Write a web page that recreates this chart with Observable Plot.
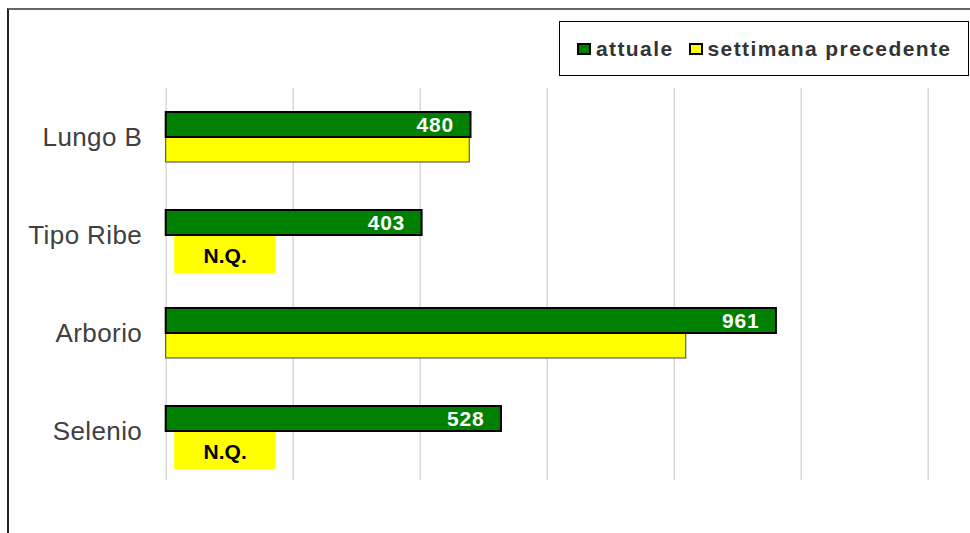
<!DOCTYPE html>
<html>
<head>
<meta charset="utf-8">
<script src="https://cdn.jsdelivr.net/npm/d3@7"></script>
<script src="https://cdn.jsdelivr.net/npm/@observablehq/plot@0.6"></script>
<style>
  html, body { margin: 0; padding: 0; background: #fff; overflow: hidden; }
  #wrap { position: relative; width: 970px; height: 533px; font-family: "Liberation Sans", Arial, sans-serif; }
  #border { position: absolute; left: 7px; top: 8px; width: 1000px; height: 600px;
    border-top: 2px solid #666; border-left: 2px solid #222; box-sizing: border-box; pointer-events: none; }
  #legend { position: absolute; left: 559px; top: 21px; width: 410px; height: 55px; box-sizing: border-box;
    border: 1.5px solid #000; background: #fff; display: flex; align-items: center; padding-left: 17px; }
  #legend .sw { width: 14px; height: 12px; box-sizing: border-box; border: 2px solid #000; margin-right: 5px; }
  #legend .lab { font-size: 21px; font-weight: bold; letter-spacing: 1.4px; color: #333; }
  svg .vals text { letter-spacing: 0.8px; }
  svg .cats text { letter-spacing: 0.4px; }
</style>
</head>
<body>
<div id="wrap">
  <div id="chart"></div>
  <div id="border"></div>
  <div id="legend"></div>
</div>
<script>
const categories = ["Lungo B", "Tipo Ribe", "Arborio", "Selenio"];
const seriesNames = ["attuale", "settimana precedente"];
const attuale = [480, 403, 961, 528];
const precedente = [478, null, 819, null];
const xTicks = [0, 200, 400, 600, 800, 1000, 1200];
const nqLabel = "N.Q.";
const seriesColors = ["#008000", "#ffff00"];

const curRows = categories.map((c, i) => ({category: c, series: seriesNames[0], value: attuale[i]}));
const prevRows = categories.map((c, i) => ({category: c, series: seriesNames[1], value: precedente[i]}));
const prevBars = prevRows.filter(d => d.value != null);
const prevNQ = prevRows.filter(d => d.value == null);

const svg = Plot.plot({
  width: 970,
  height: 533,
  marginLeft: 165.7,
  marginRight: 42.3,
  marginTop: 86,
  marginBottom: 52,
  style: {fontFamily: "'Liberation Sans', Arial, sans-serif", background: "transparent"},
  x: {domain: [0, 1200], axis: null},
  y: {domain: seriesNames, axis: null, paddingInner: 0, paddingOuter: 0.936},
  fy: {domain: categories, padding: 0, axis: null},
  marks: [
    Plot.ruleX(xTicks, {stroke: "#d9d9d9", strokeWidth: 1.5}),
    Plot.axisFy({anchor: "left", tickSize: 0, tickPadding: 24, fontSize: 26, fill: "#404040", label: null, className: "cats"}),
    Plot.barX(prevBars, {x: "value", y: "series", fy: "category", fill: seriesColors[1], stroke: "#404040", strokeWidth: 1}),
    Plot.barX(prevNQ, {x1: 0, x2: 0, y: "series", fy: "category", fill: seriesColors[1],
      insetLeft: 8.5, insetRight: -109.5, insetTop: -0.5, insetBottom: -13}),
    Plot.text(prevNQ, {x: 0, y: "series", fy: "category", text: () => nqLabel, dx: 59, dy: 8.6,
      fontSize: 21, fontWeight: "bold", fill: "#000"}),
    Plot.barX(curRows, {x: "value", y: "series", fy: "category", fill: seriesColors[0], stroke: "#000", strokeWidth: 2}),
    Plot.text(curRows, {x: "value", y: "series", fy: "category", text: d => String(d.value), textAnchor: "end",
      dx: -17, fontSize: 21, fontWeight: "bold", fill: "#fff", className: "vals"})
  ]
});
document.getElementById("chart").appendChild(svg);

const legend = document.getElementById("legend");
seriesNames.forEach((s, i) => {
  const sw = document.createElement("div");
  sw.className = "sw";
  sw.style.background = seriesColors[i];
  const lab = document.createElement("span");
  lab.className = "lab";
  lab.textContent = s;
  if (i === 0) lab.style.marginRight = "15px";
  legend.appendChild(sw);
  legend.appendChild(lab);
});
</script>
</body>
</html>
